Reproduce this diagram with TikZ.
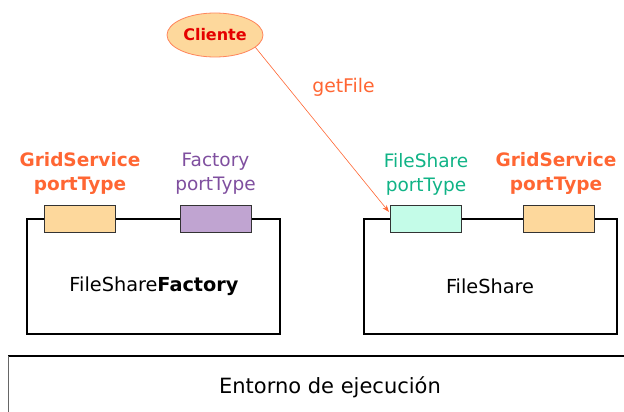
\documentclass[tikz,border=0pt]{standalone}
\usepackage{fontspec}
\setmainfont{DejaVu Sans}
\usetikzlibrary{shapes.geometric,arrows.meta}
\definecolor{orng}{HTML}{FF6633}
\definecolor{purp}{HTML}{7F4F9F}
\definecolor{grn}{HTML}{10B386}
\definecolor{peach}{HTML}{FDD89C}
\definecolor{lilac}{HTML}{C0A4D1}
\definecolor{mint}{HTML}{C4FCE8}
\tikzset{
  svcbox/.style={draw=black, line width=1.3pt, inner sep=0pt},
  port/.style={draw=black!80, line width=0.9pt, inner sep=0pt, minimum width=71pt, minimum height=27pt},
  plabel/.style={align=center, font=\fontsize{18.5}{24}\selectfont, inner sep=0pt},
  blabel/.style={align=center, font=\bfseries\fontsize{18.5}{24}\selectfont, inner sep=0pt},
  btxt/.style={font=\fontsize{19.3}{22}\selectfont, inner sep=0pt}
}
\begin{document}
\begin{tikzpicture}[x=1pt,y=-1pt]
\useasboundingbox (0,0) rectangle (624,412);
% service boxes
\node[svcbox, minimum width=253pt, minimum height=115pt] (fsf) at (153.5,276.5) {};
\node[svcbox, minimum width=253pt, minimum height=115pt] (fs) at (490.5,276.5) {};
\node[btxt] (fsftxt) at (154,286) {FileShare\textbf{Factory}};
\node[btxt] (fstxt) at (490,286) {FileShare};
% ports
\node[port, fill=peach] (gs1) at (80,218.5) {};
\node[port, fill=lilac] (fac) at (215.5,218.5) {};
\node[port, fill=mint] (fsp) at (425.5,218.5) {};
\node[port, fill=peach] (gs2) at (558.5,218.5) {};
% port labels
\node[blabel, text=orng] (l1) at (80,173) {GridService\\portType};
\node[plabel, text=purp] (l2) at (215.5,174) {Factory\\portType};
\node[plabel, text=grn] (l3) at (426,174) {FileShare\\portType};
\node[blabel, text=orng] (l4) at (556,173) {GridService\\portType};
% client
\node[ellipse, draw=orng!80, fill=peach, line width=0.8pt, minimum width=96pt, minimum height=44pt, inner sep=0pt, text=red!90!black, font=\bfseries\fontsize{16}{18}\selectfont] (cli) at (215,35) {Cliente};
\coordinate (tip) at (389,212);
\draw[orng, line width=0.6pt, -{Stealth[length=7pt,width=5pt]}] (cli.-17) -- (tip);
\node[text=orng, font=\fontsize{18.8}{22}\selectfont, inner sep=0pt] (gf) at (343.5,87) {getFile};
% execution environment
\coordinate (envL) at (8,412);
\coordinate (envTL) at (8,356);
\coordinate (envR) at (624,356);
\draw[black, line width=1.4pt] (envTL) -- (envR);
\draw[black!60, line width=0.8pt] (envTL) -- (envL);
\node[font=\fontsize{21}{24}\selectfont, inner sep=0pt] (env) at (330,387) {Entorno de ejecución};
\end{tikzpicture}
\end{document}
